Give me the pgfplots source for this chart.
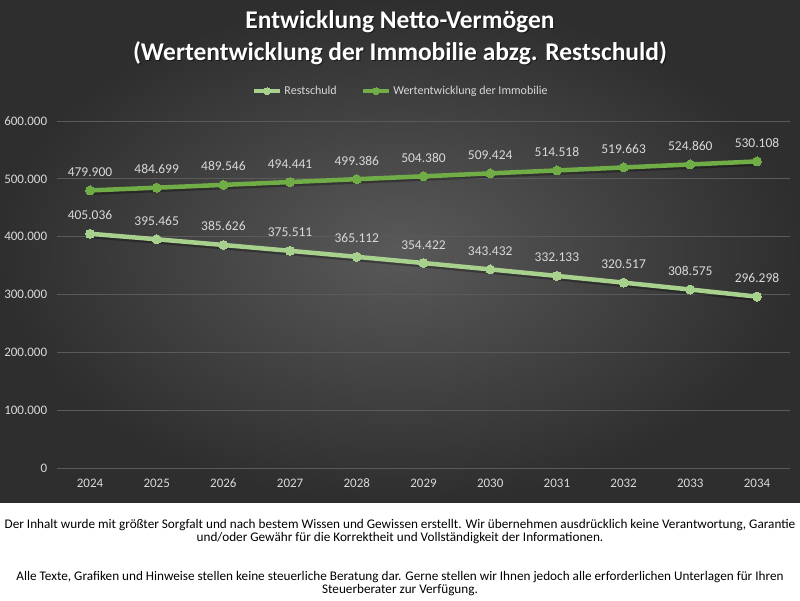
\documentclass[border=0pt]{standalone}
\usepackage{pgfplots}
\usepackage{pgfplotstable}
\pgfplotsset{compat=1.18}
\usepackage{fontspec}
\setmainfont{Carlito}
\definecolor{lgreen}{HTML}{A9D18E}
\definecolor{dgreen}{HTML}{70AD47}
\definecolor{txt}{HTML}{D9D9D9}
\definecolor{gridc}{HTML}{5A5A5A}
\definecolor{bgin}{HTML}{595959}
\definecolor{bgout}{HTML}{2E2E2E}

\pgfplotstableread{
x y lab
0 405036 405.036
1 395465 395.465
2 385626 385.626
3 375511 375.511
4 365112 365.112
5 354422 354.422
6 343432 343.432
7 332133 332.133
8 320517 320.517
9 308575 308.575
10 296298 296.298
}\rest

\pgfplotstableread{
x y lab
0 479900 479.900
1 484699 484.699
2 489546 489.546
3 494441 494.441
4 499386 499.386
5 504380 504.380
6 509424 509.424
7 514518 514.518
8 519663 519.663
9 524860 524.860
10 530108 530.108
}\wert

\begin{document}
\begin{tikzpicture}[x=1pt,y=1pt]
\useasboundingbox (0,0) rectangle (800,600);
\fill[white] (0,0) rectangle (800,600);
\shade[inner color=bgin, outer color=bgout] (0,98) rectangle (800,600);

\begin{scope}[every node/.style={font=\fontsize{25.5}{28}\selectfont\bfseries}]
\node[black, opacity=0.5] at (401.2,576.8) {Entwicklung Netto-Vermögen};
\node[black, opacity=0.5] at (401.2,545.8) {(Wertentwicklung der Immobilie abzg. Restschuld)};
\node[white] at (400,578) {Entwicklung Netto-Vermögen};
\node[white] at (400,547) {(Wertentwicklung der Immobilie abzg. Restschuld)};
\end{scope}

\begin{axis}[
  at={(56.65pt,132pt)}, anchor=south west,
  width=733.7pt, height=347pt, scale only axis,
  xmin=-0.5, xmax=10.5, ymin=0, ymax=600000,
  scaled y ticks=false,
  axis line style={draw=none},
  major tick length=0pt,
  ymajorgrids, grid style={gridc, line width=0.9pt},
  xtick={0,...,10},
  xticklabels={2024,2025,2026,2027,2028,2029,2030,2031,2032,2033,2034},
  ytick={0,100000,200000,300000,400000,500000,600000},
  yticklabels={0,100.000,200.000,300.000,400.000,500.000,600.000},
  ticklabel style={font=\fontsize{13}{15}\selectfont, color=txt},
  yticklabel style={anchor=east, xshift=-6pt},
  xticklabel style={anchor=base, yshift=-19pt},
  clip=false,
  point meta=explicit symbolic,
  nodes near coords,
  nodes near coords style={font=\fontsize{13.5}{15}\selectfont, color=txt, anchor=base, yshift=14pt},
  legend columns=2,
  legend style={at={(0.469,1.086)}, anchor=center, draw=none, fill=none,
    font=\fontsize{12}{14}\selectfont, text=txt,
    /tikz/every even column/.append style={column sep=22pt}},
  legend image code/.code={\draw[mark repeat=2,mark phase=2,#1, mark size=3.5pt] plot coordinates {(0pt,0pt) (13pt,0pt) (26pt,0pt)};},
]
\addplot[black, opacity=0.3, line width=5pt, yshift=-2pt, forget plot, nodes near coords=] table[x=x,y=y] {\rest};
\addplot[black, opacity=0.3, line width=5pt, yshift=-2pt, forget plot, nodes near coords=] table[x=x,y=y] {\wert};
\addplot[lgreen, line width=4.5pt, line join=round, mark=*, mark size=4.5pt, mark options={fill=lgreen, draw=lgreen, line width=0pt}] table[x=x,y=y,meta=lab] {\rest};
\addlegendentry{Restschuld}
\addplot[dgreen, line width=4.5pt, line join=round, mark=*, mark size=4.5pt, mark options={fill=dgreen, draw=dgreen, line width=0pt}] table[x=x,y=y,meta=lab] {\wert};
\addlegendentry{Wertentwicklung der Immobilie}
\end{axis}

\begin{scope}[every node/.style={font=\fontsize{13.2}{14}\selectfont, text=black}]
\node at (400,75) {Der Inhalt wurde mit größter Sorgfalt und nach bestem Wissen und Gewissen erstellt. Wir übernehmen ausdrücklich keine Verantwortung, Garantie};
\node at (400,62) {und/oder Gewähr für die Korrektheit und Vollständigkeit der Informationen.};
\node at (400,23) {Alle Texte, Grafiken und Hinweise stellen keine steuerliche Beratung dar. Gerne stellen wir Ihnen jedoch alle erforderlichen Unterlagen für Ihren};
\node at (400,10) {Steuerberater zur Verfügung.};
\end{scope}
\end{tikzpicture}
\end{document}
